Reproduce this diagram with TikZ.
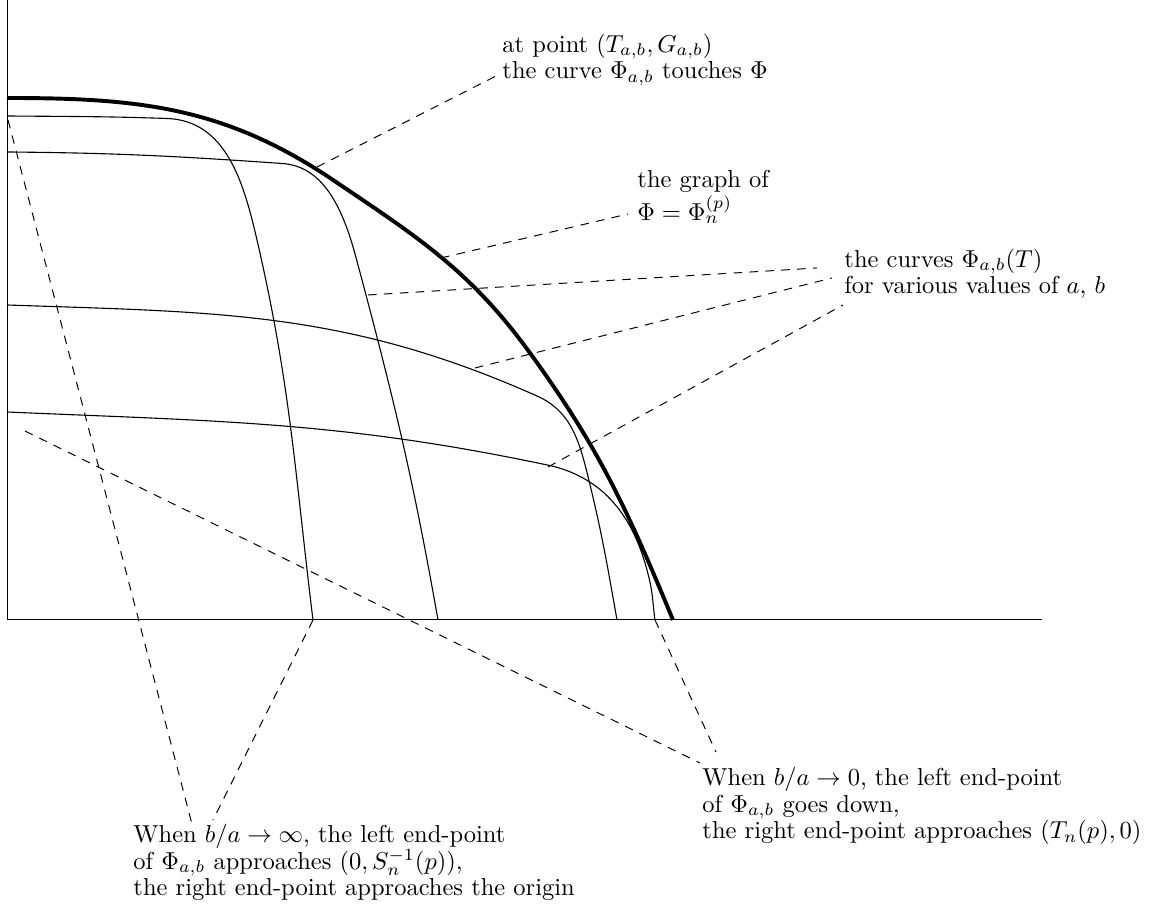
\documentclass[tikz,border=0pt]{standalone}
\usepackage{amsmath,amssymb}
\usepackage{tikz}
\usetikzlibrary{calc}
\tikzset{
  lbl/.style={align=left, inner sep=0pt, anchor=base west, font=\fontsize{10}{11}\selectfont},
  axis/.style={line width=0.4pt},
  phi/.style={line width=1.6pt, line join=round},
  fam/.style={line width=0.45pt},
  lead/.style={dash pattern=on 3.5pt off 3pt, line width=0.4pt},
}

\begin{document}
\begin{tikzpicture}[x=0.7174cm, y=0.7174cm]
  \useasboundingbox (-0.14,-5.8) rectangle (22.98,12.4);
  % axes
  \draw[axis] (0,12.4) -- (0,0) -- (20.7,0);
  % the graph of Phi
  \draw[phi] (0,10.44) to[out=0,in=146] (6.52,8.8) to[out=-34,in=126] (10.46,5.34) to[out=-54,in=112.5] (13.32,0);
  % the curves Phi_{a,b}
  \draw[fam] (0,10.08) to[out=-0.5,in=178] (3.2,10.03) to[out=-2,in=103] (5.0,7.6) to[out=-77,in=97] (6.12,0);
  \draw[fam] (0,9.36) to[out=-0.5,in=176] (5.5,9.13) .. controls (6.3,9.08) and (6.7,8.3) .. (6.98,7.25) to[out=-75,in=100] (8.62,0);
  \draw[fam] (0,6.3) to[out=-2,in=156] (10.6,4.48) to[out=-24,in=104] (11.6,2.95) to[out=-76,in=100] (12.2,0);
  \draw[fam] (0,4.16) to[out=-2.5,in=168] (10.9,3.08) to[out=-14,in=103] (12.85,0.8) to[out=-77,in=98] (12.96,0);
  % points the labels refer to
  \coordinate (touch) at (6.2,9.06);
  \coordinate (onphi) at (8.68,7.24);
  \coordinate (onB) at (7.22,6.5);
  \coordinate (onC) at (9.36,5.04);
  \coordinate (onD) at (10.82,3.06);
  \coordinate (leftA) at (0.02,10.0);
  \coordinate (rightA) at (6.12,0);
  \coordinate (leftD) at (0.36,3.78);
  \coordinate (rightD) at (12.96,0);
  % labels
  \node[lbl] (atpt) at (9.9,10.82) {at point $(T_{a,b},G_{a,b})$\\the curve $\Phi_{a,b}$ touches $\Phi$};
  \node[lbl] (graph) at (12.6,7.98) {the graph of\\$\Phi=\Phi_n^{(p)}$};
  \node[lbl] (curves) at (16.74,6.52) {the curves $\Phi_{a,b}(T)$\\for various values of $a$, $b$};
  \node[lbl] (tozero) at (13.9,-4.38) {When $b/a\to0$, the left end-point\\of $\Phi_{a,b}$ goes down,\\the right end-point approaches $(T_n(p),0)$};
  \node[lbl] (toinf) at (2.52,-5.52) {When $b/a\to\infty$, the left end-point\\of $\Phi_{a,b}$ approaches $(0,S_n^{-1}(p))$,\\the right end-point approaches the origin};
  % leaders
  \draw[lead] (touch) -- ($(atpt.base west)+(-0.04,0.1)$);
  \draw[lead] (onphi) -- ($(graph.base west)+(-0.18,0.14)$);
  \draw[lead] (onB) -- ($(curves.base west)+(-0.54,0.52)$);
  \draw[lead] (onC) -- ($(curves.base west)+(-0.24,0.32)$);
  \draw[lead] (onD) -- ($(curves.base west)+(-0.02,-0.22)$);
  \draw[lead] (leftA) -- ($(toinf.base west)+(1.2,1.36)$);
  \draw[lead] (rightA) -- ($(toinf.base west)+(1.6,1.52)$);
  \draw[lead] (leftD) -- ($(tozero.base west)+(-0.04,1.52)$);
  \draw[lead] (rightD) -- ($(tozero.base west)+(0.28,1.74)$);
\end{tikzpicture}
\end{document}
